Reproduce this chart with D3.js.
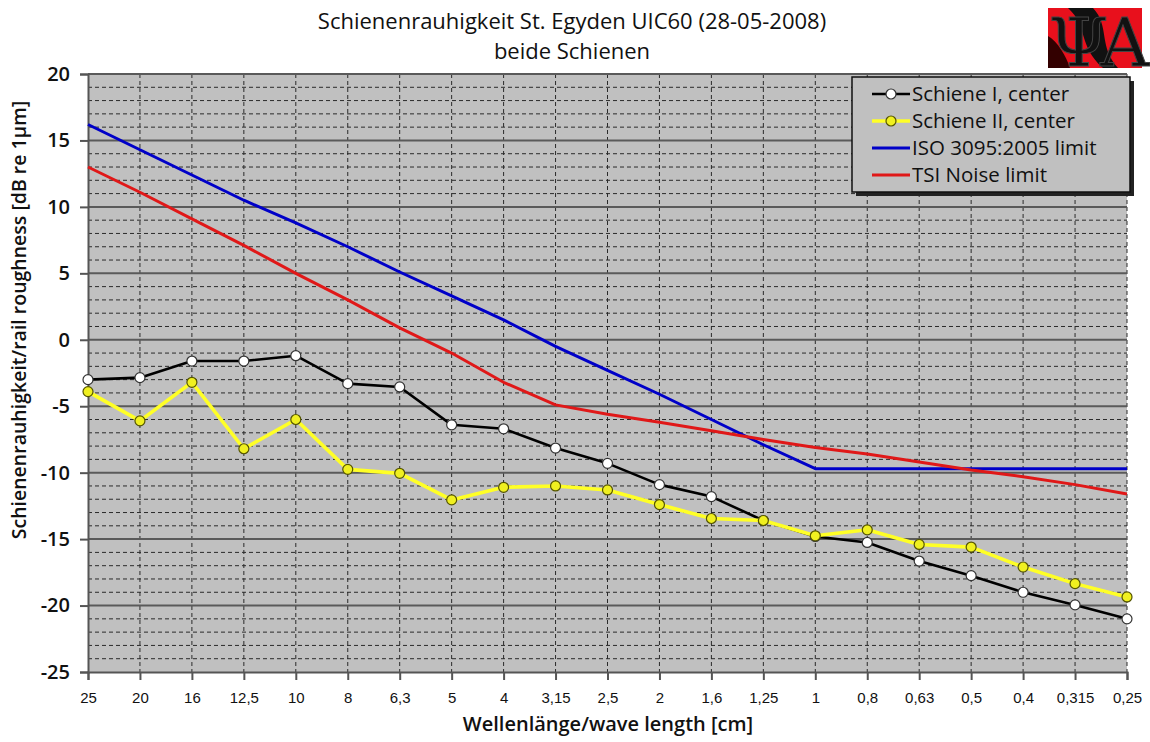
<!DOCTYPE html>
<html>
<head>
<meta charset="utf-8">
<script src="https://cdn.jsdelivr.net/npm/d3@7"></script>
<style>
  html, body { margin: 0; padding: 0; background: #ffffff; }
  svg { display: block; }
  text { font-family: "Open Sans", "DejaVu Sans", sans-serif; fill: #111; }
</style>
</head>
<body>
<svg id="chart" width="1150" height="742"></svg>
<script>
// Wavelength bands (cm), 1/3 octave
const wavelengths = ["25","20","16","12,5","10","8","6,3","5","4","3,15","2,5","2","1,6","1,25","1","0,8","0,63","0,5","0,4","0,315","0,25"];

// Measured roughness levels, dB re 1 µm
const schieneI  = [-3.0,-2.85,-1.6,-1.6,-1.2,-3.3,-3.55,-6.4,-6.7,-8.15,-9.3,-10.9,-11.8,-13.6,-14.8,-15.25,-16.65,-17.75,-19.0,-19.95,-21.0];
const schieneII = [-3.9,-6.1,-3.2,-8.2,-6.0,-9.75,-10.05,-12.05,-11.1,-11.0,-11.3,-12.4,-13.45,-13.6,-14.75,-14.3,-15.4,-15.6,-17.1,-18.35,-19.35];

// Limit spectra
const isoLimit = [16.2,14.3,12.4,10.5,8.8,7.0,5.1,3.3,1.5,-0.5,-2.3,-4.1,-6.0,-7.9,-9.7,-9.7,-9.7,-9.7,-9.7,-9.7,-9.7];
const tsiLimit = [13.0,11.1,9.1,7.1,5.0,3.0,0.9,-1.0,-3.2,-4.9,-5.6,-6.2,-6.85,-7.5,-8.1,-8.6,-9.2,-9.8,-10.3,-10.9,-11.6];

const yTicks = [20,15,10,5,0,-5,-10,-15,-20,-25];

const titleLines = ["Schienenrauhigkeit St. Egyden UIC60 (28-05-2008)", "beide Schienen"];
const xTitle = "Wellenlänge/wave length [cm]";
const yTitle = "Schienenrauhigkeit/rail roughness [dB re 1µm]";

const series = [
  { name: "Schiene I, center",      values: schieneI,  color: "#000000", width: 2.6, marker: { fill: "#ffffff", stroke: "#333333" } },
  { name: "Schiene II, center",     values: schieneII, color: "#ffff26", width: 3.6, marker: { fill: "#f0f020", stroke: "#555500" } },
  { name: "ISO 3095:2005 limit",    values: isoLimit,  color: "#0000c8", width: 3,   marker: null },
  { name: "TSI Noise limit",        values: tsiLimit,  color: "#e01818", width: 3,   marker: null }
];

const svg = d3.select("#chart");
const plot = { left: 88, right: 1127, top: 74, bottom: 672 };

const x = d3.scalePoint().domain(wavelengths).range([plot.left, plot.right]).padding(0);
const y = d3.scaleLinear().domain([-25, 20]).range([plot.bottom, plot.top]);

// Plot area background
svg.append("rect")
  .attr("x", plot.left).attr("y", plot.top)
  .attr("width", plot.right - plot.left).attr("height", plot.bottom - plot.top)
  .attr("fill", "#c0c0c0");

// Minor horizontal grid (dashed, every 1 dB)
const minor = d3.range(-24, 20).filter(v => v % 5 !== 0);
svg.append("g").selectAll("line").data(minor).join("line")
  .attr("x1", plot.left).attr("x2", plot.right)
  .attr("y1", d => y(d)).attr("y2", d => y(d))
  .attr("stroke", "#2a2a2a").attr("stroke-width", 1)
  .attr("stroke-dasharray", "4,3");

// Vertical grid (dashed, one per band)
svg.append("g").selectAll("line").data(wavelengths.slice(1)).join("line")
  .attr("x1", d => x(d)).attr("x2", d => x(d))
  .attr("y1", plot.top).attr("y2", plot.bottom)
  .attr("stroke", "#2a2a2a").attr("stroke-width", 1)
  .attr("stroke-dasharray", "4,3");

// Major horizontal grid (solid, every 5 dB)
svg.append("g").selectAll("line").data(yTicks.filter(v => v > -25)).join("line")
  .attr("x1", plot.left).attr("x2", plot.right)
  .attr("y1", d => y(d)).attr("y2", d => y(d))
  .attr("stroke", "#5a5a5a").attr("stroke-width", 2);

// Y axis
const yAxis = svg.append("g")
  .attr("transform", `translate(${plot.left},0)`)
  .call(d3.axisLeft(y).tickValues(yTicks).tickSize(8).tickPadding(10).tickFormat(d3.format("d")));
yAxis.select(".domain").attr("stroke", "#555").attr("stroke-width", 2);
yAxis.selectAll(".tick line").attr("stroke", "#555").attr("stroke-width", 2);
yAxis.selectAll(".tick text")
  .style("font-family", "'Open Sans', sans-serif")
  .style("font-size", "20px").style("font-weight", "600").attr("fill", "#1a1a1a")
  .text(d => d < 0 ? "-" + Math.abs(d) : d);

// X axis
const xAxis = svg.append("g")
  .attr("transform", `translate(0,${plot.bottom})`)
  .call(d3.axisBottom(x).tickSize(8).tickPadding(12));
xAxis.select(".domain").attr("stroke", "#555").attr("stroke-width", 2);
xAxis.selectAll(".tick line").attr("stroke", "#555").attr("stroke-width", 2);
xAxis.selectAll(".tick text")
  .style("font-family", "'Liberation Sans', Arial, sans-serif")
  .style("font-size", "15px").attr("fill", "#444");

// Series lines and markers
const line = d3.line().x((d, i) => x(wavelengths[i])).y(d => y(d));
series.forEach(s => {
  svg.append("path").datum(s.values)
    .attr("d", line)
    .attr("fill", "none")
    .attr("stroke", s.color)
    .attr("stroke-width", s.width)
    .attr("stroke-linejoin", "round");
  if (s.marker) {
    svg.append("g").selectAll("circle").data(s.values).join("circle")
      .attr("cx", (d, i) => x(wavelengths[i]))
      .attr("cy", d => y(d))
      .attr("r", 5)
      .attr("fill", s.marker.fill)
      .attr("stroke", s.marker.stroke)
      .attr("stroke-width", 1.2);
  }
});

// Titles
svg.append("text").attr("x", 572).attr("y", 29).attr("text-anchor", "middle")
  .style("font-size", "22px").text(titleLines[0]);
svg.append("text").attr("x", 572).attr("y", 59).attr("text-anchor", "middle")
  .style("font-size", "22px").text(titleLines[1]);
svg.append("text").attr("x", 608).attr("y", 731).attr("text-anchor", "middle")
  .style("font-size", "20px").style("font-weight", "600").text(xTitle);
svg.append("text").attr("transform", "translate(26,320) rotate(-90)").attr("text-anchor", "middle")
  .style("font-size", "19.5px").style("font-weight", "600").text(yTitle);

// Legend
const lg = svg.append("g").attr("transform", "translate(852,77)");
lg.append("rect").attr("x", 4).attr("y", 4).attr("width", 278).attr("height", 115).attr("fill", "#222");
lg.append("rect").attr("x", 0).attr("y", 0).attr("width", 278).attr("height", 115)
  .attr("fill", "#c0c0c0").attr("stroke", "#111").attr("stroke-width", 1.5);
series.forEach((s, i) => {
  const row = lg.append("g").attr("transform", `translate(0,${17 + i * 27})`);
  row.append("line").attr("x1", 20).attr("x2", 58).attr("y1", 0).attr("y2", 0)
    .attr("stroke", s.color).attr("stroke-width", s.width);
  if (s.marker) {
    row.append("circle").attr("cx", 39).attr("cy", 0).attr("r", 5)
      .attr("fill", s.marker.fill).attr("stroke", s.marker.stroke).attr("stroke-width", 1.2);
  }
  row.append("text").attr("x", 60).attr("y", 7)
    .style("font-size", "20.5px").style("font-weight", "500").text(s.name);
});

// Institute logo (Ψ A on red)
const logo = svg.append("g").attr("transform", "translate(1048,6)");
logo.append("rect").attr("x", 0).attr("y", 2).attr("width", 94).attr("height", 60).attr("fill", "#e8101c");
logo.append("path").attr("d", "M20,2 C40,20 30,40 55,62 L70,62 C50,40 62,20 45,2 Z").attr("fill", "#111");
logo.append("path").attr("d", "M0,30 C10,36 18,50 22,62 L0,62 Z").attr("fill", "#300");
logo.append("text").attr("x", 47).attr("y", 60).attr("text-anchor", "middle")
  .style("font-family", "'DejaVu Serif', serif").style("font-size", "68px")
  .style("letter-spacing", "-8px")
  .attr("fill", "#dcdcdc").attr("stroke", "#444").attr("stroke-width", 1).text("ΨA");
</script>
</body>
</html>
